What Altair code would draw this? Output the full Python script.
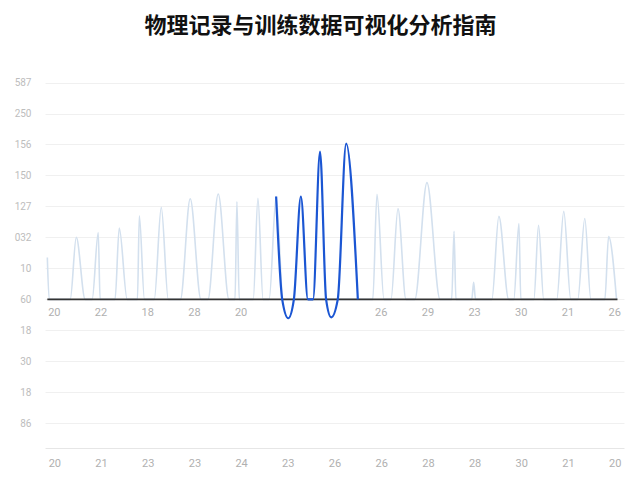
import altair as alt
import pandas as pd

title_text = "物理记录与训练数据可视化分析指南"

# light series (x in tick units, y in grid units)
light_x = [-0.15, -0.11, 0.34, 0.47, 0.66, 0.81, 0.94, 0.98, 1.30, 1.39, 1.56, 1.78, 1.82, 1.93,
           2.14, 2.29, 2.44, 2.70, 2.91, 3.14, 3.29, 3.51, 3.74, 3.87, 3.91, 3.96, 4.26, 4.36, 4.47,
           4.60, 4.75, 4.90,
           6.82, 6.91, 7.06, 7.21, 7.36, 7.53, 7.72, 7.98, 8.26, 8.51, 8.56, 8.60, 8.94, 8.98, 9.02,
           9.37, 9.52, 9.73, 9.84, 9.95, 9.99, 10.27, 10.37, 10.48, 10.76, 10.91, 11.06, 11.21,
           11.36, 11.49, 11.79, 11.87, 12.04]
light_y = [1.35, 0.0, 0.0, 2.0, 0.0, 0.0, 2.16, 0.0, 0.0, 2.3, 0.0, 0.0, 2.7, 0.0,
           0.0, 2.97, 0.0, 0.0, 3.25, 0.0, 0.0, 3.4, 0.0, 0.0, 3.16, 0.0, 0.0, 3.26, 0.0,
           0.0, 3.32, 0.0,
           0.0, 3.39, 0.0, 0.0, 2.93, 0.0, 0.0, 3.77, 0.0, 0.0, 2.2, 0.0, 0.0, 0.55, 0.0,
           0.0, 2.68, 0.0, 0.0, 2.45, 0.0, 0.0, 2.39, 0.0, 0.0, 2.84, 0.0, 0.0,
           2.61, 0.0, 0.0, 2.03, 0.0]

# highlighted series
blue_x = [4.75, 4.88, 5.01, 5.13, 5.28, 5.43, 5.54, 5.69, 5.82, 5.93, 6.07, 6.25, 6.50]
blue_y = [3.32, 0.0, -0.61, 0.0, 3.32, 0.0, 0.0, 4.77, 0.0, -0.58, 0.0, 5.03, 0.0]

x_ticks = list(range(13))
bottom_labels = ["20", "21", "23", "23", "24", "23", "26", "26", "28", "28", "30", "21", "20"]
mid_labels = ["20", "22", "18", "28", "20", "", "", "26", "29", "23", "30", "21", "26"]

y_ticks = [7, 6, 5, 4, 3, 2, 1, 0, -1, -2, -3, -4]
y_labels = ["587", "250", "156", "150", "127", "032", "10", "60", "18", "30", "18", "86"]

light_df = pd.DataFrame({"x": light_x, "y": light_y})
blue_df = pd.DataFrame({"x": blue_x, "y": blue_y})
mid_df = pd.DataFrame({"x": x_ticks, "label": mid_labels, "y": [-0.45] * len(x_ticks)})
zero_df = pd.DataFrame({"x": [-0.15], "x2": [12.06], "y": [0]})

label_arr = "[" + ",".join("'%s'" % l for l in reversed(y_labels)) + "]"
xlabel_arr = "[" + ",".join("'%s'" % l for l in bottom_labels) + "]"

xscale = alt.Scale(domain=[-0.2, 12.2], nice=False, zero=False)
yscale = alt.Scale(domain=[-4.8, 7.05], nice=False, zero=False)

xaxis = alt.Axis(values=x_ticks, labelExpr=xlabel_arr + "[datum.value]", title=None,
                 grid=False, ticks=False, domainColor="#e6e6e6", labelColor="#b0b0b0",
                 labelFont="Roboto", labelFontSize=11, labelPadding=9, labelOverlap=False,
                 tickCount=20)
yaxis = alt.Axis(values=y_ticks, labelExpr=label_arr + "[datum.value + 4]", title=None,
                 grid=True, gridColor="#f0f0f0", ticks=False, domain=False, labelOverlap=False,
                 tickCount=20,
                 labelColor="#bdbdbd", labelFont="Roboto", labelFontSize=10, labelPadding=14)

light = alt.Chart(light_df).mark_line(color="#d3e0ee", strokeWidth=1.6, interpolate="monotone").encode(
    x=alt.X("x:Q", scale=xscale, axis=xaxis),
    y=alt.Y("y:Q", scale=yscale, axis=yaxis),
)

zero = alt.Chart(zero_df).mark_rule(color="#333333", strokeWidth=1.6).encode(
    x="x:Q", x2="x2:Q", y="y:Q"
)

blue = alt.Chart(blue_df).mark_line(color="#1b56d3", strokeWidth=2.2, interpolate="monotone").encode(
    x="x:Q", y="y:Q"
)

mid = alt.Chart(mid_df).mark_text(color="#b0b0b0", font="Roboto", fontSize=11).encode(
    x="x:Q", y="y:Q", text="label:N"
)

chart = alt.layer(light, zero, blue, mid).properties(
    width=579,
    height=367,
    title=alt.TitleParams(title_text, font="Noto Sans CJK SC", fontSize=22, fontWeight="bold",
                          color="#111111", offset=18, dx=-14, baseline="bottom"),
    padding={"left": 6, "top": 6, "right": 4, "bottom": 4},
).configure_view(stroke=None)

chart.save("out.html", embed_options={"renderer": "svg", "actions": False})
